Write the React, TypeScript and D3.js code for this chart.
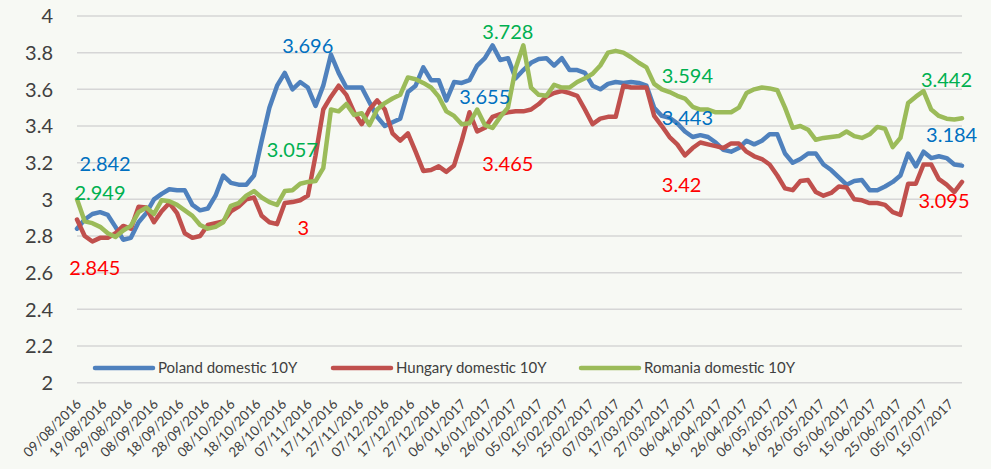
import React, { useEffect, useRef } from "react";
import * as d3 from "d3";

// x axis labels, every 10 days from the first observation
const tickLabels = [
  "09/08/2016", "19/08/2016", "29/08/2016", "08/09/2016", "18/09/2016", "28/09/2016",
  "08/10/2016", "18/10/2016", "28/10/2016", "07/11/2016", "17/11/2016", "27/11/2016",
  "07/12/2016", "17/12/2016", "27/12/2016", "06/01/2017", "16/01/2017", "26/01/2017",
  "05/02/2017", "15/02/2017", "25/02/2017", "07/03/2017", "17/03/2017", "27/03/2017",
  "06/04/2017", "16/04/2017", "26/04/2017", "06/05/2017", "16/05/2017", "26/05/2017",
  "05/06/2017", "15/06/2017", "25/06/2017", "05/07/2017", "15/07/2017",
];

const yTicks = [2, 2.2, 2.4, 2.6, 2.8, 3, 3.2, 3.4, 3.6, 3.8, 4];

// yields read every 3 days starting 09/08/2016
const startDate = "09/08/2016";
const stepDays = 3;

const poland = [
  2.84, 2.89, 2.92, 2.93, 2.915, 2.85, 2.78, 2.79, 2.875, 2.925,
  3.0, 3.03, 3.055, 3.05, 3.05, 2.97, 2.94, 2.95, 3.02, 3.13,
  3.09, 3.08, 3.08, 3.13, 3.32, 3.5, 3.62, 3.69, 3.6, 3.64,
  3.61, 3.51, 3.62, 3.79, 3.69, 3.61, 3.61, 3.61, 3.53, 3.45,
  3.4, 3.42, 3.44, 3.585, 3.62, 3.72, 3.65, 3.65, 3.54, 3.64,
  3.635, 3.65, 3.73, 3.77, 3.84, 3.76, 3.77, 3.66, 3.705, 3.745,
  3.765, 3.77, 3.73, 3.77, 3.705, 3.705, 3.69, 3.62, 3.6, 3.63,
  3.64, 3.635, 3.64, 3.635, 3.62, 3.5, 3.455, 3.445, 3.415, 3.37,
  3.34, 3.35, 3.34, 3.31, 3.27, 3.26, 3.28, 3.32, 3.3, 3.32,
  3.355, 3.355, 3.25, 3.2, 3.22, 3.25, 3.25, 3.19, 3.16, 3.12,
  3.08, 3.1, 3.105, 3.05, 3.05, 3.07, 3.095, 3.13, 3.25, 3.18,
  3.26, 3.225, 3.235, 3.225, 3.19, 3.184,
];

const hungary = [
  2.89, 2.8, 2.77, 2.79, 2.79, 2.815, 2.855, 2.84, 2.96, 2.955,
  2.875, 2.935, 2.98, 2.925, 2.815, 2.79, 2.8, 2.86, 2.87, 2.88,
  2.935, 2.96, 3.0, 3.01, 2.91, 2.875, 2.865, 2.98, 2.985, 2.995,
  3.02, 3.24, 3.49, 3.56, 3.62, 3.57, 3.475, 3.41, 3.49, 3.54,
  3.49, 3.36, 3.32, 3.36, 3.26, 3.155, 3.16, 3.18, 3.15, 3.185,
  3.32, 3.475, 3.37, 3.39, 3.45, 3.465, 3.475, 3.48, 3.48, 3.49,
  3.52, 3.56, 3.58, 3.59, 3.58, 3.565, 3.49, 3.41, 3.44, 3.45,
  3.45, 3.62, 3.61, 3.61, 3.61, 3.455, 3.4, 3.34, 3.3, 3.24,
  3.28, 3.31, 3.3, 3.29, 3.28, 3.305, 3.305, 3.26, 3.235, 3.22,
  3.19, 3.13, 3.06, 3.05, 3.1, 3.105, 3.04, 3.02, 3.035, 3.07,
  3.065, 3.0, 2.995, 2.98, 2.98, 2.97, 2.93, 2.915, 3.085, 3.085,
  3.19, 3.19, 3.11, 3.08, 3.04, 3.095,
];

const romania = [
  3.0, 2.88, 2.87, 2.85, 2.815, 2.795, 2.83, 2.855, 2.93, 2.955,
  2.92, 2.995, 2.99, 2.97, 2.94, 2.91, 2.86, 2.84, 2.85, 2.875,
  2.965, 2.98, 3.02, 3.045, 3.01, 2.985, 2.97, 3.045, 3.05, 3.085,
  3.095, 3.1, 3.17, 3.49, 3.48, 3.52, 3.46, 3.47, 3.405, 3.49,
  3.525, 3.55, 3.57, 3.665, 3.655, 3.635, 3.61, 3.56, 3.48, 3.455,
  3.41, 3.415, 3.49, 3.405, 3.39, 3.45, 3.5, 3.715, 3.84, 3.61,
  3.57, 3.565, 3.625, 3.61, 3.61, 3.64, 3.66, 3.685, 3.73, 3.8,
  3.81, 3.8, 3.775, 3.745, 3.72, 3.63, 3.6, 3.585, 3.565, 3.55,
  3.505, 3.49, 3.49, 3.475, 3.475, 3.475, 3.5, 3.58, 3.6, 3.61,
  3.605, 3.595, 3.5, 3.39, 3.4, 3.38, 3.325, 3.335, 3.34, 3.345,
  3.37, 3.345, 3.335, 3.355, 3.395, 3.385, 3.285, 3.335, 3.525, 3.56,
  3.59, 3.49, 3.455, 3.44, 3.435, 3.442,
];

const seriesNames = ["Poland domestic 10Y", "Hungary domestic 10Y", "Romania domestic 10Y"];
const seriesColors = ["#4f81bd", "#c0504d", "#9bbb59"];
const labelColors = ["#0070c0", "#ff0000", "#00b050"];

// value labels: series index, text, date and level of the label baseline
const annotations = [
  { s: 0, text: "2.842", date: "10/08/2016", level: 3.155 },
  { s: 2, text: "2.949", date: "08/08/2016", level: 2.996 },
  { s: 1, text: "2.845", date: "06/08/2016", level: 2.587 },
  { s: 1, text: "3", date: "03/11/2016", level: 2.805 },
  { s: 2, text: "3.057", date: "22/10/2016", level: 3.231 },
  { s: 0, text: "3.696", date: "28/10/2016", level: 3.798 },
  { s: 2, text: "3.728", date: "14/01/2017", level: 3.875 },
  { s: 0, text: "3.655", date: "05/01/2017", level: 3.52 },
  { s: 1, text: "3.465", date: "14/01/2017", level: 3.155 },
  { s: 2, text: "3.594", date: "25/03/2017", level: 3.635 },
  { s: 0, text: "3.443", date: "25/03/2017", level: 3.405 },
  { s: 1, text: "3.42", date: "25/03/2017", level: 3.04 },
  { s: 2, text: "3.442", date: "04/07/2017", level: 3.613 },
  { s: 0, text: "3.184", date: "06/07/2017", level: 3.313 },
  { s: 1, text: "3.095", date: "03/07/2017", level: 2.953 },
];

const FONT = "Lato, 'Open Sans', sans-serif";

export default function App() {
  const svgRef = useRef<SVGSVGElement>(null);

  useEffect(() => {
    const width = 991;
    const height = 469;
    const plot = { left: 77, right: 962, top: 16, bottom: 382.7 };

    const parse = d3.timeParse("%d/%m/%Y");
    const start = parse(startDate) as Date;
    const dates = poland.map((_, i) => d3.timeDay.offset(start, i * stepDays));
    const series = [poland, hungary, romania];

    const x = d3
      .scaleTime()
      .domain([dates[0], dates[dates.length - 1]])
      .range([plot.left, plot.right]);

    const y = d3.scaleLinear().domain([2, 4]).range([plot.bottom, plot.top]);

    const svg = d3.select(svgRef.current);
    svg.selectAll("*").remove();
    svg.attr("width", width).attr("height", height);

    svg.append("rect").attr("width", width).attr("height", height).attr("fill", "#f7f9f4");

    // gridlines
    svg
      .append("g")
      .selectAll("line")
      .data(yTicks)
      .enter()
      .append("line")
      .attr("x1", plot.left)
      .attr("x2", plot.right)
      .attr("y1", (d) => y(d))
      .attr("y2", (d) => y(d))
      .attr("stroke", "#d6d6d6")
      .attr("stroke-width", 1.5);

    // y labels
    svg
      .append("g")
      .selectAll("text")
      .data(yTicks)
      .enter()
      .append("text")
      .attr("x", 53)
      .attr("y", (d) => y(d))
      .attr("dy", "0.36em")
      .attr("text-anchor", "end")
      .style("font-family", FONT)
      .style("font-size", "20px")
      .attr("fill", "#404040")
      .text((d) => String(+d.toFixed(1)));

    // x labels
    svg
      .append("g")
      .selectAll("text")
      .data(tickLabels)
      .enter()
      .append("text")
      .attr("transform", (d) => `translate(${x(parse(d) as Date) + 5},405) rotate(-45)`)
      .attr("text-anchor", "end")
      .style("font-family", FONT)
      .style("font-size", "13.5px")
      .attr("fill", "#404040")
      .text((d) => d);

    const line = d3
      .line<number>()
      .x((_, i) => x(dates[i]))
      .y((d) => y(d));

    series.forEach((vals, k) => {
      svg
        .append("path")
        .datum(vals)
        .attr("d", line)
        .attr("fill", "none")
        .attr("stroke", seriesColors[k])
        .attr("stroke-width", 4.5)
        .attr("stroke-linejoin", "round")
        .attr("stroke-linecap", "round");
    });

    // value labels
    svg
      .append("g")
      .selectAll("text")
      .data(annotations)
      .enter()
      .append("text")
      .attr("x", (d) => x(parse(d.date) as Date))
      .attr("y", (d) => y(d.level))
      .style("font-family", FONT)
      .style("font-size", "20px")
      .attr("fill", (d) => labelColors[d.s])
      .text((d) => d.text);

    // legend
    const legendX = [95, 333, 581];
    const legendY = 368;
    const lg = svg.append("g");
    seriesNames.forEach((name, k) => {
      lg.append("line")
        .attr("x1", legendX[k])
        .attr("x2", legendX[k] + 58)
        .attr("y1", legendY)
        .attr("y2", legendY)
        .attr("stroke", seriesColors[k])
        .attr("stroke-width", 4.5)
        .attr("stroke-linecap", "round");
      lg.append("text")
        .attr("x", legendX[k] + 63)
        .attr("y", legendY)
        .attr("dy", "0.35em")
        .style("font-family", FONT)
        .style("font-size", "15px")
        .attr("fill", "#404040")
        .text(name);
    });
  }, []);

  return (
    <svg
      ref={svgRef}
      style={{ position: "absolute", left: 0, top: 0, display: "block" }}
    />
  );
}
